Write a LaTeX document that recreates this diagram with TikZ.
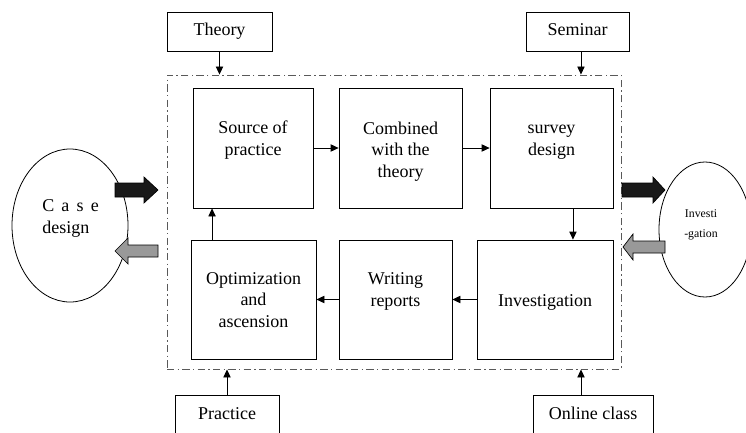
\documentclass[tikz,border=0pt]{standalone}
\usepackage{fontspec}
\setmainfont{Liberation Serif}
\usetikzlibrary{shapes.geometric,arrows.meta}
\begin{document}
\begin{tikzpicture}[x=0.75pt,y=-0.75pt,
  box/.style={draw,line width=0.6pt,rectangle,inner sep=0pt},
  small/.style={box,text height=0.7em,text depth=0.25em},
  txt/.style={align=center,inner sep=0pt},
  arr/.style={line width=0.6pt,-{Triangle[length=6pt,width=5.5pt]}},
  frame/.style={draw=black!65,line width=0.7pt,dash pattern=on 5.5pt off 2.5pt on 1pt off 2.5pt,inner sep=0pt},
  oval/.style={draw,line width=0.6pt,ellipse,inner sep=0pt},
  blk/.style={draw,line width=0.5pt,fill=black!90},
  gry/.style={draw,line width=0.5pt,fill=black!40}]
\clip (0,0) rectangle (746,432);
\fontsize{13.5}{16.1}\selectfont
% frame
\node[frame,minimum width=340.5pt,minimum height=220.5pt] (frame) at (394,222) {};
% inner boxes
\node[box,minimum width=90pt,minimum height=90pt] (src) at (253,148) {};
\node[box,minimum width=92.25pt,minimum height=90pt] (comb) at (400.5,148) {};
\node[box,minimum width=92.25pt,minimum height=90pt] (surv) at (551.5,148) {};
\node[box,minimum width=93.75pt,minimum height=89.25pt] (opt) at (253.5,299.5) {};
\node[box,minimum width=84.75pt,minimum height=89.25pt] (wr) at (395.5,299.5) {};
\node[box,minimum width=102pt,minimum height=89.25pt] (inv) at (545,299.5) {};
\node[txt,anchor=base] (srct) at (253,155) {Source of\\practice};
\node[txt,anchor=base] (combt) at (400.5,177) {Combined\\with the\\theory};
\node[txt,anchor=base] (survt) at (551.5,155) {survey\\design};
\node[txt,anchor=base] (optt) at (253.5,327) {Optimization\\and\\ascension};
\node[txt,anchor=base] (wrt) at (395.5,306) {Writing\\reports};
\node[txt,anchor=base] (invt) at (545,306) {Investigation};
% outer boxes
\node[small,minimum width=78.75pt,minimum height=29.25pt] (theory) at (219.5,31.5) {Theory};
\node[small,minimum width=77.25pt,minimum height=29.25pt] (sem) at (577.5,31.5) {Seminar};
\node[small,minimum width=78pt,minimum height=30pt] (prac) at (227,415) {Practice};
\node[small,minimum width=90pt,minimum height=30pt] (onl) at (593,415) {Online class};
% connectors
\draw[arr] (src.east) -- (comb.west);
\draw[arr] (comb.east) -- (surv.west);
\draw[arr] ([xshift=16.1pt]surv.south) -- ([xshift=16.1pt]surv.south |- inv.north);
\draw[arr] (inv.west) -- (wr.east);
\draw[arr] (wr.west) -- (opt.east);
\draw[arr] ([xshift=-31.1pt]opt.north) -- ([xshift=-31.1pt]opt.north |- src.south);
\draw[arr] (theory.south) -- (theory.south |- frame.north);
\draw[arr] ([xshift=2.6pt]sem.south) -- ([xshift=2.6pt]sem.south |- frame.north);
\draw[arr] (prac.north) -- (prac.north |- frame.south);
\draw[arr] ([xshift=-9pt]onl.north) -- ([xshift=-9pt]onl.north |- frame.south);
% ellipses
\node[oval,minimum width=87pt,minimum height=114.75pt] (case) at (70,225.5) {};
\node[oval,minimum width=69pt,minimum height=101.25pt] (invs) at (705,229.5) {};
\node[align=left,inner sep=0pt,anchor=base west] (caset) at (42,233) {C\hspace{0.4em}a\hspace{0.4em}s\hspace{0.4em}e\\design};
\node[txt,anchor=base,font=\fontsize{8.85}{15}\selectfont] (invst) at (701,237) {Investi\\-gation};
% block arrows
\draw[blk] (115,183) -- (144,183) -- (144,177) -- (158,190) -- (144,203) -- (144,197) -- (115,197) -- cycle;
\draw[gry] (158,245) -- (128,245) -- (128,238) -- (115,251) -- (128,264) -- (128,257) -- (158,257) -- cycle;
\draw[blk] (622,183) -- (653,183) -- (653,177) -- (665,190) -- (653,203) -- (653,197) -- (622,197) -- cycle;
\draw[gry] (665,241) -- (633,241) -- (633,234) -- (623,247) -- (633,260) -- (633,253) -- (665,253) -- cycle;
\end{tikzpicture}
\end{document}
